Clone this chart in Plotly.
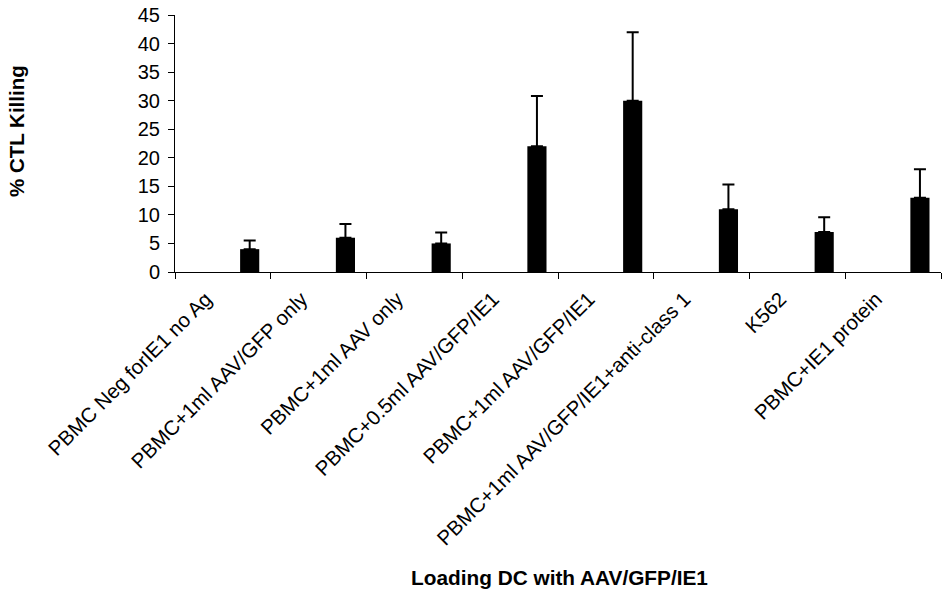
import plotly.graph_objects as go

categories = [
    "PBMC Neg forIE1 no Ag",
    "PBMC+1ml AAV/GFP only",
    "PBMC+1ml AAV only",
    "PBMC+0.5ml AAV/GFP/IE1",
    "PBMC+1ml AAV/GFP/IE1",
    "PBMC+1ml AAV/GFP/IE1+anti-class 1",
    "K562",
    "PBMC+IE1 protein",
]
ctl_killing = [4, 6, 5, 22, 30, 11, 7, 13]
error_plus = [1.5, 2.4, 1.9, 8.8, 12, 4.3, 2.6, 5]
error_minus = [0, 0, 0, 0, 0, 0, 0, 0]
y_ticks = [0, 5, 10, 15, 20, 25, 30, 35, 40, 45]

FONT = "Liberation Sans, Arial, sans-serif"

fig = go.Figure()
fig.add_trace(go.Bar(
    x=categories,
    y=ctl_killing,
    width=0.2,
    offset=0.18,
    marker=dict(color="black", line=dict(width=0)),
    error_y=dict(
        type="data", symmetric=False,
        array=error_plus, arrayminus=error_minus,
        color="black", thickness=2, width=6, visible=True,
    ),
    showlegend=False,
))

fig.update_layout(
    width=950, height=589,
    margin=dict(l=175, r=9, t=15, b=317, autoexpand=False),
    paper_bgcolor="white", plot_bgcolor="white",
    font=dict(family=FONT, color="black"),
    xaxis=dict(
        type="category",
        range=[-0.5, 7.5],
        automargin=False,
        tickson="boundaries",
        ticks="outside", ticklen=6, tickcolor="black", tickwidth=1,
        showline=True, linecolor="black", linewidth=1,
        showgrid=False, zeroline=False,
        tickangle=-45,
        ticklabelshift=-17, ticklabelstandoff=6,
        tickfont=dict(size=20.5, family=FONT, color="black"),
    ),
    yaxis=dict(
        range=[0, 45],
        automargin=False,
        tickvals=y_ticks,
        ticks="outside", ticklen=6, tickcolor="black", tickwidth=1,
        showline=True, linecolor="black", linewidth=1,
        showgrid=False, zeroline=False,
        ticklabelstandoff=4,
        tickfont=dict(size=20, family=FONT, color="black"),
    ),
    annotations=[
        dict(
            text="<b>% CTL Killing</b>", textangle=-90,
            xref="paper", yref="paper", x=(16 - 175) / 766, y=(272 - 131) / 257,
            xanchor="center", yanchor="middle", showarrow=False,
            font=dict(size=20.5, family=FONT, color="black"),
        ),
        dict(
            text="<b>Loading DC with AAV/GFP/IE1</b>",
            xref="paper", yref="paper", x=(559 - 175) / 766, y=(272 - 577) / 257,
            xanchor="center", yanchor="middle", showarrow=False,
            font=dict(size=20.8, family=FONT, color="black"),
        ),
    ],
)

fig.write_html(
    "out.html",
    config={"displayModeBar": False},
    post_script="document.body.style.margin='0px';document.body.style.overflow='hidden';",
)
